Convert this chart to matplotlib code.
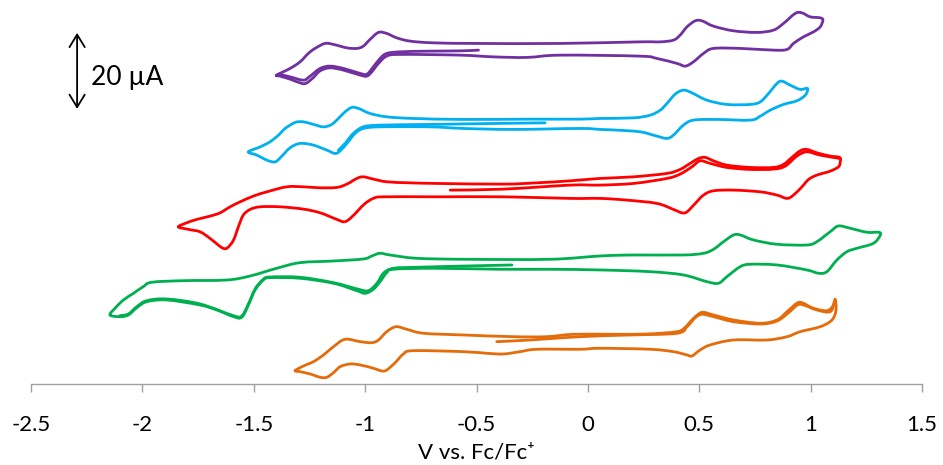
import matplotlib
matplotlib.use("Agg")
import matplotlib.pyplot as plt
import numpy as np
from matplotlib.path import Path
from matplotlib.patches import PathPatch

plt.rcParams['font.family'] = ['Lato', 'DejaVu Sans']

# ---- cyclic voltammograms (potential in V vs Fc/Fc+, current in uA) ----
# each trace: main closed loop + the extra sweep segment; offsets stack the traces

purple_v = [-1.397, -1.337, -1.292, -1.255, -1.225, -1.180, -1.142, -1.082, -1.037, -1.008,
            -0.978, -0.940, -0.903, -0.858, -0.798, -0.693, -0.498, -0.124, 0.235, 0.325,
            0.384, 0.414, 0.445, 0.482, 0.512, 0.564, 0.654, 0.759, 0.833, 0.878,
            0.931, 0.961, 0.998, 1.043, 1.055, 1.043, 1.013, 0.968, 0.923, 0.894,
            0.833, 0.684, 0.564, 0.519, 0.474, 0.437, 0.400, 0.310, 0.235, -0.124,
            -0.274, -0.424, -0.573, -0.843, -0.903, -0.940, -0.970, -0.992, -1.022, -1.097,
            -1.157, -1.202, -1.232, -1.262, -1.284, -1.337, -1.382, -1.397]
purple_i = [-8.42, -6.66, -4.92, -2.71, -1.39, -0.08, -0.34, -1.24, -1.39, -0.79,
            0.97, 2.82, 2.55, 1.39, 0.53, 0.08, -0.08, -0.08, 0.34, 0.34,
            0.79, 2.11, 4.29, 5.87, 5.87, 4.47, 3.24, 2.82, 3.42, 5.18,
            7.82, 7.97, 6.92, 6.66, 6.05, 4.29, 2.97, 1.66, -0.08, -1.66,
            -1.84, -1.39, -1.39, -2.71, -4.92, -6.05, -5.34, -4.03, -3.42, -3.16,
            -3.76, -3.61, -3.16, -2.97, -3.42, -5.34, -7.55, -8.68, -8.42, -7.11,
            -6.50, -7.29, -9.03, -10.45, -10.61, -9.47, -8.68, -8.42]
purple_sweep_v = [-0.491, -0.573, -0.723, -0.843, -0.903, -0.933, -0.963, -0.992, -1.022, -1.097,
                  -1.157, -1.202, -1.247, -1.277, -1.337, -1.389]
purple_sweep_i = [-1.84, -2.03, -2.11, -2.29, -2.71, -4.03, -6.24, -8.16, -7.97, -6.66,
                  -6.05, -6.66, -8.68, -9.74, -8.87, -8.16]

blue_v = [-1.524, -1.471, -1.427, -1.389, -1.359, -1.314, -1.277, -1.232, -1.187, -1.150,
          -1.120, -1.090, -1.060, -1.030, -0.978, -0.903, -0.783, -0.559, -0.259, -0.035,
          0.055, 0.205, 0.280, 0.325, 0.355, 0.392, 0.429, 0.467, 0.534, 0.624,
          0.729, 0.774, 0.811, 0.849, 0.871, 0.908, 0.953, 0.986, 0.976, 0.938,
          0.878, 0.819, 0.774, 0.729, 0.579, 0.474, 0.429, 0.384, 0.355, 0.310,
          0.235, 0.130, 0.055, -0.035, -0.334, -0.559, -0.708, -0.933, -1.008, -1.045,
          -1.082, -1.112, -1.135, -1.172, -1.232, -1.292, -1.337, -1.374, -1.404, -1.441,
          -1.486, -1.524]
blue_i = [-8.61, -7.29, -5.97, -4.21, -2.45, -0.87, -0.71, -1.39, -2.03, -1.39,
          0.18, 1.92, 3.08, 2.82, 1.50, 0.61, 0.18, -0.08, 0.00, 0.00,
          0.18, 0.34, 1.05, 2.37, 4.13, 6.58, 7.63, 6.92, 5.00, 3.87,
          3.87, 4.55, 6.76, 9.39, 10.00, 8.95, 7.82, 8.08, 6.32, 4.82,
          3.87, 2.37, 0.79, -0.26, -0.08, -0.26, -1.58, -4.21, -5.08, -4.47,
          -3.34, -2.89, -2.71, -2.45, -2.71, -2.45, -2.03, -2.03, -2.45, -3.76,
          -6.39, -8.34, -9.03, -8.16, -6.84, -6.39, -7.55, -9.74, -11.24, -10.79,
          -9.47, -8.61]
blue_sweep_v = [-0.192, -0.409, -0.708, -0.933, -1.008, -1.053, -1.090, -1.120]
blue_sweep_i = [-0.97, -1.13, -1.39, -1.58, -2.03, -3.76, -6.39, -8.16]

red_v = [-1.838, -1.801, -1.756, -1.696, -1.651, -1.606, -1.561, -1.502, -1.441, -1.352,
         -1.277, -1.202, -1.127, -1.082, -1.037, -1.008, -0.963, -0.903, -0.798, -0.678,
         -0.379, -0.229, -0.079, 0.055, 0.205, 0.355, 0.414, 0.459, 0.497, 0.527,
         0.564, 0.624, 0.729, 0.833, 0.878, 0.916, 0.953, 0.983, 1.028, 1.088,
         1.130, 1.133, 1.125, 1.088, 1.028, 0.991, 0.961, 0.923, 0.894, 0.849,
         0.774, 0.654, 0.564, 0.519, 0.482, 0.445, 0.422, 0.384, 0.310, 0.175,
         0.055, -0.079, -0.379, -0.678, -0.918, -0.963, -1.000, -1.030, -1.067, -1.094,
         -1.127, -1.202, -1.277, -1.382, -1.471, -1.516, -1.547, -1.569, -1.591, -1.618,
         -1.636, -1.659, -1.696, -1.741, -1.793, -1.838]
red_i = [-11.24, -10.18, -9.29, -8.42, -7.55, -5.97, -4.66, -3.16, -2.03, -0.71,
         -0.71, -0.97, -0.87, 0.00, 1.50, 1.92, 1.32, 0.61, 0.34, 0.18,
         0.00, 0.34, 0.87, 1.50, 1.92, 2.82, 3.87, 5.45, 6.76, 7.03,
         6.13, 5.00, 4.39, 4.39, 5.18, 7.03, 8.76, 9.13, 8.24, 7.37,
         7.03, 5.87, 4.55, 3.42, 2.37, 1.24, -0.71, -2.89, -3.76, -2.89,
         -2.03, -1.58, -1.76, -2.89, -5.08, -7.29, -7.55, -6.66, -5.08, -4.21,
         -3.76, -3.76, -3.34, -3.34, -3.34, -3.76, -5.08, -6.84, -9.03, -9.92,
         -9.29, -7.55, -6.58, -5.97, -5.97, -6.66, -8.16, -11.24, -14.74, -16.76,
         -16.92, -16.05, -14.29, -12.55, -11.92, -11.24]
red_sweep_v = [-0.618, -0.379, -0.079, 0.055, 0.205, 0.355, 0.414, 0.467, 0.504, 0.549,
               0.624, 0.729, 0.833, 0.886, 0.938, 0.983, 1.043, 1.130]
red_sweep_i = [-1.58, -1.32, -0.26, -0.26, 0.18, 1.50, 2.63, 4.55, 6.13, 5.45,
               4.39, 3.87, 3.95, 4.74, 7.37, 8.50, 7.63, 6.76]

green_v = [-2.145, -2.123, -2.085, -2.040, -1.996, -1.958, -1.816, -1.621, -1.516, -1.397,
           -1.292, -1.142, -1.008, -0.970, -0.933, -0.888, -0.768, -0.543, -0.169, 0.055,
           0.205, 0.429, 0.519, 0.564, 0.609, 0.654, 0.684, 0.744, 0.849, 0.983,
           1.028, 1.088, 1.125, 1.178, 1.253, 1.305, 1.313, 1.282, 1.208, 1.163,
           1.118, 1.073, 1.036, 0.983, 0.849, 0.729, 0.684, 0.624, 0.586, 0.534,
           0.429, 0.280, 0.055, -0.169, -0.394, -0.693, -0.873, -0.903, -0.933, -0.963,
           -1.000, -1.037, -1.142, -1.292, -1.427, -1.457, -1.494, -1.524, -1.554, -1.591,
           -1.666, -1.741, -1.890, -1.980, -2.025, -2.063, -2.100, -2.145]
green_i = [-14.74, -12.97, -10.79, -9.03, -7.29, -6.13, -5.71, -5.53, -4.47, -2.45,
           -0.97, -0.53, 0.00, 0.79, 1.50, 1.05, 0.18, -0.08, -0.08, 0.79,
           1.05, 1.05, 1.50, 2.55, 4.55, 6.32, 6.32, 5.00, 3.87, 3.68,
           4.55, 7.18, 8.68, 8.08, 7.03, 7.03, 6.32, 4.13, 2.82, 1.92,
           -0.26, -3.34, -3.76, -2.89, -1.58, -1.39, -2.03, -4.66, -6.39, -5.97,
           -4.21, -3.34, -2.89, -2.71, -2.71, -2.45, -2.71, -3.61, -5.97, -7.97,
           -9.03, -8.34, -6.39, -5.08, -4.92, -5.53, -8.16, -12.11, -15.34, -15.18,
           -13.42, -12.11, -10.79, -11.24, -12.82, -14.74, -15.18, -14.74]
green_sweep_v = [-0.341, -0.543, -0.768, -0.873, -0.918, -0.947, -0.985, -1.030, -1.142, -1.292,
                 -1.427, -1.457, -1.494, -1.524, -1.554, -1.591, -1.741, -1.890, -1.980, -2.025,
                 -2.063, -2.100]
green_sweep_i = [-1.58, -1.84, -2.18, -2.45, -3.76, -6.39, -8.34, -7.97, -6.24, -4.82,
                 -4.74, -5.34, -7.89, -11.84, -15.00, -14.92, -11.84, -10.53, -10.97, -12.55,
                 -14.47, -14.92]

orange_v = [-1.314, -1.277, -1.232, -1.187, -1.142, -1.090, -1.022, -0.970, -0.940, -0.903,
            -0.861, -0.813, -0.738, -0.559, -0.334, -0.184, -0.065, 0.115, 0.265, 0.400,
            0.437, 0.467, 0.497, 0.519, 0.564, 0.654, 0.774, 0.849, 0.894, 0.938,
            0.961, 1.013, 1.073, 1.100, 1.110, 1.114, 1.096, 1.043, 0.953, 0.894,
            0.804, 0.654, 0.549, 0.504, 0.467, 0.445, 0.384, 0.280, 0.055, -0.035,
            -0.229, -0.304, -0.379, -0.454, -0.559, -0.783, -0.828, -0.865, -0.903, -0.925,
            -0.963, -1.022, -1.067, -1.112, -1.142, -1.172, -1.202, -1.247, -1.292, -1.314]
orange_i = [-9.39, -8.16, -7.03, -5.26, -3.08, -1.13, -1.76, -2.03, -1.32, 0.87,
            2.18, 1.50, 0.45, 0.00, -0.45, -0.45, 0.18, 0.18, 0.26, 0.87,
            2.03, 3.95, 5.53, 5.97, 5.26, 3.95, 3.08, 3.95, 6.13, 8.34,
            8.50, 7.03, 6.39, 7.63, 9.39, 6.58, 3.95, 2.18, 0.87, -0.45,
            -1.32, -1.32, -2.63, -3.95, -5.53, -5.26, -4.39, -3.76, -3.50, -3.76,
            -3.76, -4.39, -5.00, -4.82, -4.39, -4.13, -5.00, -7.29, -9.21, -9.47,
            -8.76, -7.89, -7.63, -8.34, -9.92, -11.13, -11.13, -10.26, -9.66, -9.39]
orange_sweep_v = [-0.409, -0.259, -0.110, 0.040, 0.190, 0.400, 0.445, 0.482, 0.512, 0.564,
                  0.654, 0.774, 0.849, 0.901, 0.941, 0.968, 1.028, 1.088, 1.107]
orange_sweep_i = [-1.76, -1.32, -0.71, -0.26, 0.00, 0.45, 2.18, 4.55, 5.45, 4.82,
                  3.50, 2.89, 3.68, 5.87, 7.89, 7.89, 6.58, 6.13, 8.76]

trace_offsets = [89.7, 69.7, 52.6, 32.9, 12.9]   # uA, vertical stacking
trace_colors = ['#7030A0', '#00B0F0', '#FF0000', '#00B050', '#E46C0A']

tick_values = [-2.5, -2.0, -1.5, -1.0, -0.5, 0.0, 0.5, 1.0, 1.5]
tick_labels = ['-2.5', '-2', '-1.5', '-1', '-0.5', '0', '0.5', '1', '1.5']
scale_bar_uA = 20

traces = [
    (purple_v, purple_i, purple_sweep_v, purple_sweep_i),
    (blue_v, blue_i, blue_sweep_v, blue_sweep_i),
    (red_v, red_i, red_sweep_v, red_sweep_i),
    (green_v, green_i, green_sweep_v, green_sweep_i),
    (orange_v, orange_i, orange_sweep_v, orange_sweep_i),
]


def smooth_path(x, y):
    """Smoothed-line path through every point (Catmull-Rom as cubic Beziers)."""
    pts = np.column_stack([x, y]).astype(float)
    closed = np.allclose(pts[0], pts[-1])
    n = len(pts)
    if closed:
        ext = np.vstack([pts[-2], pts, pts[1]])
    else:
        ext = np.vstack([pts[0], pts, pts[-1]])
    verts = [pts[0]]
    codes = [Path.MOVETO]
    for k in range(n - 1):
        p0, p1, p2, p3 = ext[k], ext[k + 1], ext[k + 2], ext[k + 3]
        c1 = p1 + (p2 - p0) / 6.0
        c2 = p2 - (p3 - p1) / 6.0
        verts.extend([c1, c2, p2])
        codes.extend([Path.CURVE4] * 3)
    return Path(np.array(verts), codes)


fig = plt.figure(figsize=(9.43, 4.65), dpi=100)
ax = fig.add_axes([31 / 943, 81 / 465, 891 / 943, 384 / 465])

for (v, i, sv, si), off, col in zip(traces, trace_offsets, trace_colors):
    for xs, ys in ((v, i), (sv, si)):
        path = smooth_path(xs, [c + off for c in ys])
        ax.add_patch(PathPatch(path, facecolor='none', edgecolor=col, lw=2.0,
                               joinstyle='round', capstyle='round'))

ax.set_xlim(-2.5, 1.5)
ax.set_ylim(0, 384 / 3.8)

for side in ('top', 'right', 'left'):
    ax.spines[side].set_visible(False)
ax.spines['bottom'].set_color('#a0a0a0')
ax.spines['bottom'].set_linewidth(1.0)
ax.set_yticks([])
ax.set_xticks(tick_values)
ax.set_xticklabels(tick_labels)
ax.tick_params(axis='x', direction='out', length=6, width=1.0, color='#a0a0a0',
               labelsize=16, pad=16, labelcolor='black')
ax.set_xlabel('V vs. Fc/Fc\u207A', fontsize=16, labelpad=6, color='black')

# 20 uA scale bar
bar_x = -2.293
bar_top = 92.4
ax.annotate('', xy=(bar_x, bar_top), xytext=(bar_x, bar_top - scale_bar_uA),
            arrowprops=dict(arrowstyle='<->,head_length=0.9,head_width=0.55',
                            mutation_scale=10, lw=1.3, color='black',
                            shrinkA=0, shrinkB=0))
ax.text(bar_x + 0.063, 78.7, f'{scale_bar_uA} \u00b5A',
        fontsize=19, va='baseline', ha='left', color='black')

fig.savefig('out.png', dpi=100)
